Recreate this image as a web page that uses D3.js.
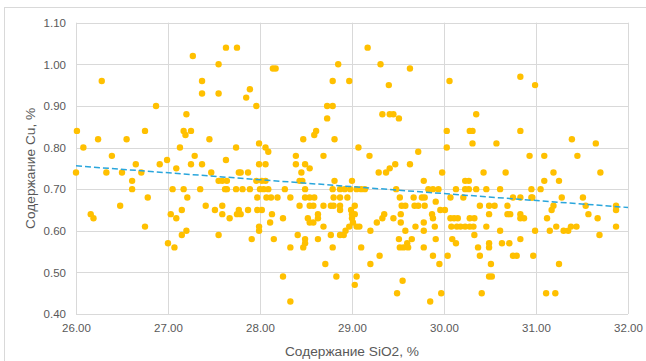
<!DOCTYPE html>
<html>
<head>
<meta charset="utf-8">
<script src="https://cdn.jsdelivr.net/npm/d3@7"></script>
<style>
  body { margin: 0; background: #fff; }
  text { font-family: "Liberation Sans", Arial, sans-serif; fill: #595959; }
</style>
</head>
<body>
<script>
// SiO2 (%) and Cu (%) pairs
const siO2 = [
  26.01,26.08,26.28,26.24,26.39,26.55,26.65,26.75,26.87,26.91,26.99,27.13,27.17,27.19,27.20,27.25,27.27,27.29,27.25,27.37,
  27.37,27.37,27.45,27.55,27.55,27.63,27.75,27.63,27.74,27.85,27.89,27.96,27.99,27.99,
  28.06,28.09,28.06,28.14,28.17,28.39,28.39,28.49,28.47,28.59,28.61,28.69,28.73,28.79,28.73,28.79,28.85,28.81,28.97,29.07,
  29.17,29.19,29.31,29.40,29.33,29.41,29.45,29.51,29.63,29.47,29.63,29.72,30.03,30.03,30.06,
  30.35,30.28,30.31,30.31,30.57,30.83,30.99,30.83,30.93,31.09,31.39,31.45,31.65,
  26.00,26.16,26.19,26.33,26.50,26.48,26.61,26.61,26.71,26.78,26.75,27.05,27.03,27.09,27.09,27.15,27.17,27.21,27.15,27.20,
  27.00,27.07,27.35,27.41,27.47,27.51,27.55,27.59,27.64,27.59,27.59,27.67,27.62,27.64,27.55,27.74,27.75,27.79,27.77,27.77,
  27.79,27.81,27.87,27.89,27.87,27.91,27.96,27.97,27.97,27.99,27.99,
  28.54,28.45,29.29,29.37,29.41,29.98,
  28.02,28.06,28.43,28.46,28.81,29.00,29.78,
  28.00,28.04,28.09,28.27,28.49,28.79,28.87,28.92,28.98,29.05,29.10,29.14,29.48,29.83,29.88,29.94,
  28.07,28.12,28.19,28.33,28.49,28.54,28.59,28.80,28.87,28.95,29.52,29.67,29.76,29.79,29.91,
  28.43,28.54,28.58,28.69,28.77,28.80,28.87,29.03,29.54,29.58,29.68,29.72,29.79,
  28.02,28.87,28.99,29.96,30.01,
  28.13,28.63,29.00,29.03,29.35,29.53,29.87,
  28.25,28.52,28.63,29.00,29.33,29.45,29.88,
  28.11,28.54,28.58,29.27,29.01,29.53,29.78,
  28.69,28.97,29.05,29.08,29.69,29.90,
  28.93,29.20,29.58,29.78,
  28.41,28.77,28.87,28.91,29.91,
  28.15,28.49,28.63,29.51,29.65,
  28.49,29.60,
  28.33,28.47,28.79,29.10,29.52,29.56,29.61,29.78,
  30.04,29.30,29.88,
  28.71,29.20,29.95,
  28.25,28.83,29.05,
  29.55,29.03,
  29.49,29.97,
  28.33,29.85,
  30.43,30.67,31.19,31.70,
  30.23,30.27,31.25,31.09,
  30.13,30.23,30.27,30.35,30.46,30.61,30.95,31.05,
  30.07,30.21,30.75,30.83,30.95,30.96,31.28,31.51,
  30.39,30.49,30.55,30.69,31.19,31.54,31.87,
  31.17,31.87,
  30.49,30.69,30.72,30.83,31.57,
  30.07,30.11,30.15,30.28,30.33,30.83,30.87,31.12,31.67,
  30.08,30.14,30.18,30.23,30.28,30.32,30.46,31.22,31.38,31.44,31.87,
  30.61,30.99,31.15,31.30,31.35,
  30.33,31.69,
  30.09,30.83,
  30.13,30.49,30.63,30.71,
  30.37,30.49,
  30.39,30.75,30.79,30.97,
  30.51,31.25,
  30.49,30.52,
  30.41,31.11,31.21
];
const cu = [
  0.84,0.80,0.96,0.82,0.78,0.82,0.76,0.84,0.90,0.76,0.77,0.80,0.84,0.83,0.88,0.84,1.02,0.78,0.76,0.96,
  0.93,0.76,0.82,1.00,0.93,1.04,1.04,0.77,0.80,0.92,0.94,0.90,0.81,0.76,
  0.80,0.79,0.76,0.99,0.99,0.78,0.76,0.76,0.82,0.83,0.84,0.78,0.90,0.90,0.87,0.96,1.00,0.82,0.96,0.80,
  1.04,0.78,1.00,0.95,0.88,0.88,0.88,0.87,0.99,0.76,0.76,0.79,0.84,0.80,0.96,
  0.88,0.84,0.84,0.81,0.81,0.97,0.95,0.84,0.78,0.78,0.82,0.78,0.81,
  0.74,0.64,0.63,0.74,0.74,0.66,0.72,0.70,0.74,0.68,0.61,0.70,0.64,0.63,0.75,0.65,0.70,0.68,0.59,0.60,
  0.57,0.56,0.70,0.66,0.74,0.65,0.72,0.72,0.72,0.66,0.64,0.63,0.70,0.70,0.59,0.70,0.64,0.64,0.65,0.74,
  0.74,0.70,0.74,0.70,0.65,0.58,0.72,0.68,0.65,0.61,0.60,
  0.75,0.74,0.74,0.74,0.75,0.74,
  0.72,0.72,0.72,0.72,0.72,0.72,0.72,
  0.70,0.70,0.70,0.70,0.70,0.70,0.70,0.70,0.70,0.70,0.70,0.70,0.70,0.70,0.70,0.70,
  0.68,0.68,0.68,0.68,0.68,0.68,0.68,0.68,0.68,0.68,0.68,0.68,0.68,0.68,0.67,
  0.66,0.66,0.66,0.66,0.66,0.66,0.66,0.66,0.66,0.66,0.66,0.66,0.66,
  0.65,0.65,0.65,0.65,0.65,
  0.64,0.64,0.64,0.64,0.64,0.64,0.64,
  0.63,0.63,0.63,0.63,0.63,0.63,0.63,
  0.62,0.62,0.62,0.62,0.62,0.62,0.62,
  0.61,0.61,0.61,0.61,0.61,0.61,
  0.60,0.60,0.60,0.60,
  0.59,0.59,0.59,0.59,0.58,
  0.58,0.58,0.58,0.58,0.58,
  0.57,0.57,
  0.56,0.56,0.56,0.56,0.56,0.56,0.56,0.56,
  0.54,0.54,0.54,
  0.52,0.52,0.52,
  0.49,0.49,0.49,
  0.48,0.47,
  0.45,0.45,
  0.43,0.43,
  0.74,0.74,0.74,0.74,
  0.72,0.72,0.72,0.72,
  0.70,0.70,0.70,0.70,0.70,0.70,0.70,0.70,
  0.68,0.68,0.68,0.68,0.68,0.68,0.68,0.68,
  0.66,0.66,0.66,0.66,0.66,0.66,0.66,
  0.65,0.65,
  0.64,0.64,0.64,0.64,0.64,
  0.63,0.63,0.63,0.63,0.63,0.63,0.63,0.63,0.63,
  0.61,0.61,0.61,0.61,0.61,0.61,0.61,0.61,0.61,0.61,0.61,
  0.60,0.60,0.60,0.60,0.60,
  0.59,0.59,
  0.58,0.58,
  0.57,0.57,0.57,0.57,
  0.56,0.56,
  0.54,0.54,0.54,0.54,
  0.52,0.52,
  0.49,0.49,
  0.45,0.45,0.45
];

// linear trend line as drawn in the reference (ends)
const trendX = [26, 32];
const trendY = [0.756, 0.656];

const xTicks = [26, 27, 28, 29, 30, 31, 32];
const yTicks = [0.4, 0.5, 0.6, 0.7, 0.8, 0.9, 1.0, 1.1];

const width = 646, height = 361;
const margin = { top: 22.7, right: 18, bottom: 47, left: 76 };

const data = siO2.map((x, i) => ({ x: x, y: cu[i] }));

const svg = d3.select("body").append("svg")
    .attr("width", width)
    .attr("height", height);

// outer chart border (right and bottom edges fall off the picture)
svg.append("rect")
    .attr("x", 4.5).attr("y", 7.5)
    .attr("width", 700).attr("height", 400)
    .attr("fill", "#fff")
    .attr("stroke", "#d9d9d9");

const x = d3.scaleLinear().domain([26, 32]).range([margin.left, width - margin.right]);
const y = d3.scaleLinear().domain([0.4, 1.1]).range([height - margin.bottom, margin.top]);

// grid
svg.append("g").selectAll("line").data(yTicks).join("line")
    .attr("x1", x(26)).attr("x2", x(32))
    .attr("y1", d => Math.round(y(d)) + 0.5).attr("y2", d => Math.round(y(d)) + 0.5)
    .attr("stroke", "#d9d9d9");
svg.append("g").selectAll("line").data(xTicks).join("line")
    .attr("x1", d => Math.round(x(d)) + 0.5).attr("x2", d => Math.round(x(d)) + 0.5)
    .attr("y1", y(1.1)).attr("y2", y(0.4))
    .attr("stroke", "#d9d9d9");

// tick labels via axes, with the lines hidden
const yAxis = svg.append("g")
    .attr("transform", `translate(${x(26)},0)`)
    .call(d3.axisLeft(y).tickValues(yTicks).tickFormat(d3.format(".2f")).tickSize(0).tickPadding(10));
const xAxis = svg.append("g")
    .attr("transform", `translate(0,${y(0.4)})`)
    .call(d3.axisBottom(x).tickValues(xTicks).tickFormat(d3.format(".2f")).tickSize(0).tickPadding(10));
[yAxis, xAxis].forEach(a => {
    a.select(".domain").remove();
    a.selectAll("text").style("font-size", "11.5px").attr("fill", "#595959")
        .style("font-family", '"Liberation Sans", Arial, sans-serif');
});

// points
svg.append("g").selectAll("circle").data(data).join("circle")
    .attr("cx", d => x(d.x))
    .attr("cy", d => y(d.y))
    .attr("r", 3.2)
    .attr("fill", "#ffc000");

// trend line
svg.append("line")
    .attr("x1", x(trendX[0])).attr("y1", y(trendY[0]))
    .attr("x2", x(trendX[1])).attr("y2", y(trendY[1]))
    .attr("stroke", "#2aa6dc")
    .attr("stroke-width", 1.5)
    .attr("stroke-dasharray", "6,3");

// axis titles
svg.append("text")
    .attr("x", (x(26) + x(32)) / 2)
    .attr("y", 355.5)
    .attr("text-anchor", "middle")
    .style("font-size", "13.7px")
    .text("Содержание SiO2, %");

svg.append("text")
    .attr("transform", `translate(35,${(y(0.4) + y(1.1)) / 2}) rotate(-90)`)
    .attr("text-anchor", "middle")
    .style("font-size", "13.7px")
    .text("Содержание Cu, %");
</script>
</body>
</html>
